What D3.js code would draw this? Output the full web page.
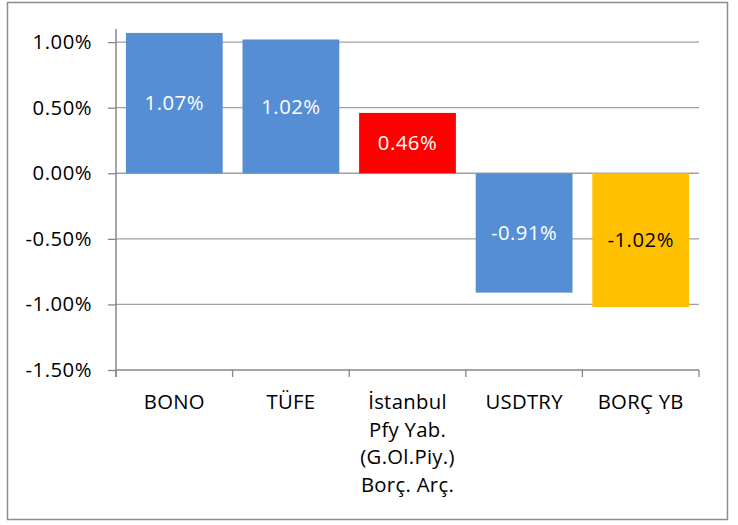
<!DOCTYPE html>
<html>
<head>
<meta charset="utf-8">
<script src="https://cdn.jsdelivr.net/npm/d3@7/dist/d3.min.js"></script>
<style>
  html, body { margin: 0; padding: 0; background: #fff; }
  svg { display: block; }
  text { font-family: "Open Sans", "Noto Sans", sans-serif; }
</style>
</head>
<body>
<svg id="chart" width="738" height="525"></svg>
<script>
const categories = [
  ["BONO"],
  ["TÜFE"],
  ["İstanbul", "Pfy Yab.", "(G.Ol.Piy.)", "Borç. Arç."],
  ["USDTRY"],
  ["BORÇ YB"]
];
const values = [1.07, 1.02, 0.46, -0.91, -1.02];
const barColors = ["#558ED5", "#558ED5", "#FF0000", "#558ED5", "#FFC000"];
const labelColors = ["#ffffff", "#ffffff", "#ffffff", "#ffffff", "#000000"];
const yTicks = [-1.5, -1.0, -0.5, 0.0, 0.5, 1.0];
const yDomain = [-1.5, 1.1];

const FS = 20.3;
const svg = d3.select("#chart");

// outer chart border
svg.append("rect")
  .attr("x", 7.5).attr("y", 2.5)
  .attr("width", 720).attr("height", 517)
  .attr("fill", "#fff")
  .attr("stroke", "#8c8c8c")
  .attr("stroke-width", 1.5);

const plotLeft = 116, plotRight = 699, plotTop = 29, plotBottom = 370;

const x = d3.scaleBand()
  .domain(d3.range(values.length))
  .range([plotLeft, plotRight])
  .paddingInner(0.17)
  .paddingOuter(0.085);

const y = d3.scaleLinear().domain(yDomain).range([plotBottom, plotTop]);

const fmt = v => v.toFixed(2) + "%";

// gridlines
svg.append("g")
  .selectAll("line")
  .data(yTicks.filter(t => t !== yDomain[0]))
  .join("line")
  .attr("x1", plotLeft).attr("x2", plotRight)
  .attr("y1", d => y(d)).attr("y2", d => y(d))
  .attr("stroke", "#a0a0a0")
  .attr("stroke-width", 1.3);

// bars
svg.append("g")
  .selectAll("rect")
  .data(values)
  .join("rect")
  .attr("x", (d, i) => x(i))
  .attr("width", x.bandwidth())
  .attr("y", d => y(Math.max(0, d)))
  .attr("height", d => Math.abs(y(d) - y(0)))
  .attr("fill", (d, i) => barColors[i]);

// bar labels
svg.append("g")
  .selectAll("text")
  .data(values)
  .join("text")
  .attr("x", (d, i) => x(i) + x.bandwidth() / 2)
  .attr("y", d => (y(d) + y(0)) / 2)
  .attr("dy", "0.36em")
  .attr("text-anchor", "middle")
  .attr("font-size", FS)
  .attr("letter-spacing", 0.5)
  .attr("fill", (d, i) => labelColors[i])
  .text(d => fmt(d));

// y axis
const yAxis = d3.axisLeft(y)
  .tickValues(yTicks)
  .tickSize(8)
  .tickPadding(16)
  .tickFormat(fmt);
const gy = svg.append("g")
  .attr("transform", `translate(${plotLeft},0)`)
  .call(yAxis);
gy.select(".domain").remove();
gy.selectAll(".tick line").attr("stroke", "#868686").attr("stroke-width", 1.3);
gy.selectAll(".tick text")
  .attr("font-size", FS)
  .attr("letter-spacing", 0.5)
  .attr("fill", "#000")
  .attr("font-family", "Open Sans, sans-serif");
svg.append("line")
  .attr("x1", plotLeft).attr("x2", plotLeft)
  .attr("y1", plotTop).attr("y2", plotBottom + 7)
  .attr("stroke", "#868686").attr("stroke-width", 1.5);

// x axis line
svg.append("line")
  .attr("x1", plotLeft).attr("x2", plotRight)
  .attr("y1", plotBottom).attr("y2", plotBottom)
  .attr("stroke", "#868686").attr("stroke-width", 1.5);

// category boundary ticks
const bounds = d3.range(values.length + 1).map(i => plotLeft + i * x.step());
svg.append("g")
  .selectAll("line")
  .data(bounds)
  .join("line")
  .attr("x1", d => d).attr("x2", d => d)
  .attr("y1", plotBottom).attr("y2", plotBottom + 7)
  .attr("stroke", "#868686").attr("stroke-width", 1.3);

// category labels
const cat = svg.append("g")
  .selectAll("text")
  .data(categories)
  .join("text")
  .attr("text-anchor", "middle")
  .attr("font-size", FS)
  .attr("letter-spacing", 0.3)
  .attr("fill", "#000")
  .attr("transform", (d, i) => `translate(${x(i) + x.bandwidth() / 2},409)`);
cat.selectAll("tspan")
  .data(d => d)
  .join("tspan")
  .attr("x", 0)
  .attr("y", (d, j) => j * 27.7)
  .text(d => d);
</script>
</body>
</html>
